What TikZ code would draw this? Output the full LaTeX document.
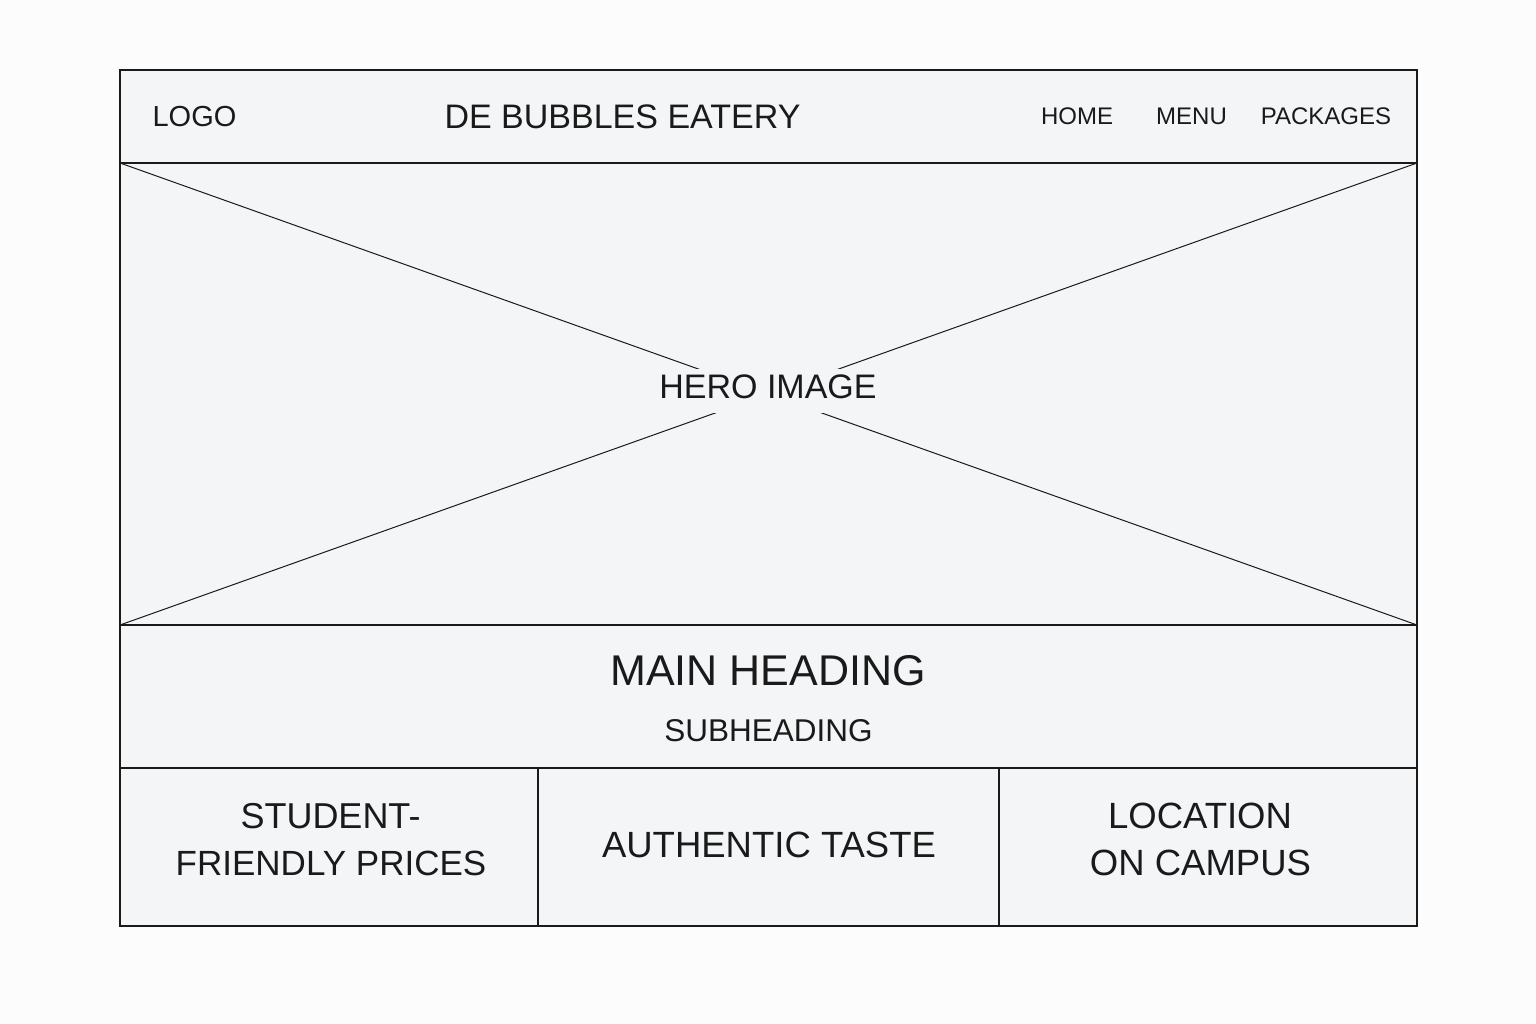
\documentclass[tikz,border=0pt]{standalone}
\usepackage{fontspec}
\setmainfont{Liberation Sans}
\definecolor{pagebg}{HTML}{FCFCFC}
\definecolor{panelbg}{HTML}{F4F5F6}
\definecolor{ink}{HTML}{1A1A1A}
\tikzset{
  frame/.style={draw=ink, line width=1.6pt},
  divider/.style={draw=ink, line width=1.3pt},
  cross/.style={draw=ink, line width=1.0pt},
  lbl/.style={text=ink, inner sep=0pt, anchor=base},
}
\begin{document}
\begin{tikzpicture}[x=1pt,y=-1pt]
\useasboundingbox (0,0) rectangle (1536,1024);
\fill[pagebg] (0,0) rectangle (1536,1024);
% frame corners
\coordinate (tl) at (120,70);
\coordinate (br) at (1417,926);
\fill[panelbg] (tl) rectangle (br);
% hero corners
\coordinate (h1) at (120,163);
\coordinate (h2) at (1417,163);
\coordinate (h3) at (1417,625);
\coordinate (h4) at (120,625);
% section lines
\coordinate (m1) at (120,768);
\coordinate (m2) at (1417,768);
\coordinate (c1t) at (538,768);
\coordinate (c1b) at (538,926);
\coordinate (c2t) at (999,768);
\coordinate (c2b) at (999,926);
% diagonals
\draw[cross] (h1) -- (h3);
\draw[cross] (h4) -- (h2);
% dividers
\draw[divider] (h1) -- (h2);
\draw[divider] (h4) -- (h3);
\draw[divider] (m1) -- (m2);
\draw[divider] (c1t) -- (c1b);
\draw[divider] (c2t) -- (c2b);
\draw[frame] (tl) rectangle (br);
% header texts
\node[lbl, font=\fontsize{29}{34}\selectfont] (logo) at (194.5,127) {LOGO};
\node[lbl, font=\fontsize{34}{40}\selectfont] (title) at (622.5,129) {DE BUBBLES EATERY};
\node[lbl, font=\fontsize{24}{28}\selectfont] (home) at (1077,125) {HOME};
\node[lbl, font=\fontsize{24}{28}\selectfont] (menu) at (1191.5,125) {MENU};
\node[lbl, font=\fontsize{24}{28}\selectfont] (packages) at (1326,125) {PACKAGES};
% hero label with masking fill
\node[fill=panelbg, text=ink, inner xsep=12pt, inner ysep=0pt, minimum height=44pt,
      text depth=8pt, font=\fontsize{34}{40}\selectfont] (hero) at (768,391) {HERO IMAGE};
% headings
\node[lbl, font=\fontsize{43}{50}\selectfont] (mainhead) at (768,685) {MAIN HEADING};
\node[lbl, font=\fontsize{31.5}{36}\selectfont] (subhead) at (768.5,741) {SUBHEADING};
% feature cells
\node[lbl, font=\fontsize{36}{47}\selectfont] (s1) at (330.5,828) {STUDENT-};
\node[lbl, font=\fontsize{35}{47}\selectfont] (s2) at (331,875) {FRIENDLY PRICES};
\node[lbl, font=\fontsize{36.5}{47}\selectfont] (auth) at (769,857) {AUTHENTIC TASTE};
\node[lbl, font=\fontsize{36.5}{47}\selectfont] (l1) at (1200,828) {LOCATION};
\node[lbl, font=\fontsize{36.5}{47}\selectfont] (l2) at (1200.5,875) {ON CAMPUS};
\end{tikzpicture}
\end{document}
